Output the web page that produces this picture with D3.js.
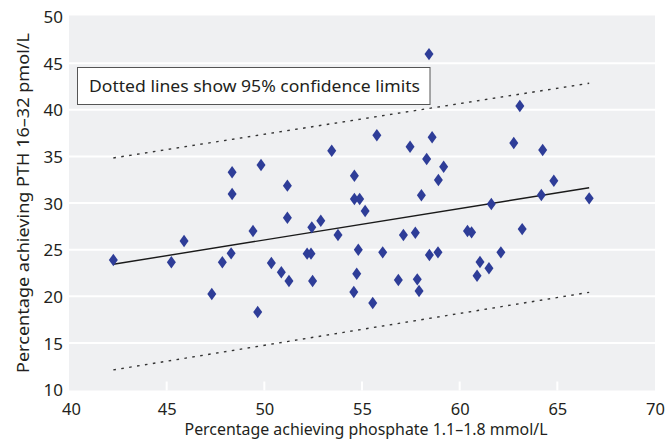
<!DOCTYPE html>
<html>
<head>
<meta charset="utf-8">
<script src="https://cdn.jsdelivr.net/npm/d3@7"></script>
<style>
  html, body { margin: 0; padding: 0; background: #fff; }
  svg { display: block; }
  text { font-family: "Noto Sans", "Open Sans", sans-serif; fill: #231f20; }
</style>
</head>
<body>
<svg id="chart" width="665" height="439"></svg>
<script>
// Percentage of patients per unit achieving phosphate target (x) and PTH target (y)
const phosphatePct = [
  42.27, 45.24, 45.89, 47.31, 47.85, 48.30, 48.35, 48.35, 49.42, 49.66,
  49.83, 50.36, 50.87, 51.18, 51.18, 51.26, 52.19, 52.39, 52.43, 52.47,
  52.89, 53.45, 53.77, 54.58, 54.61, 54.61, 54.73, 54.81, 54.88, 55.16,
  55.55, 55.76, 56.06, 56.86, 57.12, 57.46, 57.73, 57.83, 57.92, 58.04,
  58.31, 58.43, 58.45, 58.59, 58.89, 58.91, 59.18, 60.40, 60.61, 60.89,
  61.04, 61.50, 61.62, 62.11, 62.77, 63.08, 63.20, 64.18, 64.25, 64.82,
  66.63
];
const pthPct = [
  23.89, 23.64, 25.92, 20.24, 23.64, 24.60, 33.29, 30.97, 27.00, 18.31,
  34.08, 23.57, 22.57, 31.86, 28.42, 21.64, 24.57, 24.57, 27.39, 21.64,
  28.10, 35.61, 26.57, 20.46, 32.93, 30.43, 22.42, 24.99, 30.43, 29.14,
  19.28, 37.26, 24.71, 21.74, 26.57, 36.04, 26.81, 21.81, 20.56, 30.83,
  34.72, 45.97, 24.42, 37.05, 24.71, 32.47, 33.89, 27.00, 26.85, 22.20,
  23.67, 23.00, 29.89, 24.71, 36.43, 40.40, 27.20, 30.86, 35.68, 32.39,
  30.50
];

// Regression line and its 95% confidence limits (x, y end points)
const fitLine   = [[42.27, 23.43], [66.63, 31.64]];
const upperCI   = [[42.27, 34.83], [66.63, 42.84]];
const lowerCI   = [[42.27, 12.10], [66.63, 20.42]];

const xTicks = [40, 45, 50, 55, 60, 65, 70];
const yTicks = [10, 15, 20, 25, 30, 35, 40, 45, 50];

const xTitle = "Percentage achieving phosphate 1.1\u20131.8 mmol/L";
const yTitle = "Percentage achieving PTH 16\u201332 pmol/L";
const noteText = "Dotted lines show 95% confidence limits";

const svg = d3.select("#chart");
const plot = { left: 69, right: 655, top: 16.5, bottom: 389.5 };

const x = d3.scaleLinear().domain([40, 70]).range([plot.left, plot.right]);
const y = d3.scaleLinear().domain([10, 50]).range([plot.bottom, plot.top]);

// plot background
svg.append("rect")
  .attr("x", plot.left).attr("y", plot.top - 1)
  .attr("width", plot.right - plot.left)
  .attr("height", plot.bottom - plot.top + 2)
  .attr("fill", "#eff0f2");

// horizontal white gridlines
svg.append("g")
  .selectAll("line")
  .data(yTicks.filter(d => d > 10 && d < 50))
  .join("line")
  .attr("x1", plot.left).attr("x2", plot.right)
  .attr("y1", d => y(d)).attr("y2", d => y(d))
  .attr("stroke", "#fff").attr("stroke-width", 2);

// white inner tick marks along the bottom
svg.append("g")
  .selectAll("line")
  .data(xTicks.filter(d => d > 40 && d < 70))
  .join("line")
  .attr("x1", d => x(d)).attr("x2", d => x(d))
  .attr("y1", plot.bottom + 1).attr("y2", plot.bottom - 8)
  .attr("stroke", "#fff").attr("stroke-width", 2);

// axes (labels only; domain and tick lines hidden)
const yAxis = svg.append("g")
  .attr("transform", `translate(${plot.left - 6},0)`)
  .call(d3.axisLeft(y).tickValues(yTicks).tickSize(0).tickPadding(0));
yAxis.select(".domain").remove();
yAxis.selectAll("text")
  .attr("font-size", 17)
  .attr("font-family", "'Noto Sans', sans-serif")
  .attr("fill", "#231f20")
  .attr("dy", "0.36em");

const xAxis = svg.append("g")
  .attr("transform", `translate(0,${plot.bottom})`)
  .call(d3.axisBottom(x).tickValues(xTicks).tickSize(0).tickPadding(0));
xAxis.select(".domain").remove();
xAxis.selectAll("text")
  .attr("font-size", 16.5)
  .attr("font-family", "'Noto Sans', sans-serif")
  .attr("fill", "#231f20")
  .attr("dy", null)
  .attr("y", 25);
xAxis.selectAll(".tick").filter(d => d === 40).select("text").attr("dx", 2);

// axis titles
svg.append("text")
  .attr("x", 366).attr("y", 434.5)
  .attr("text-anchor", "middle")
  .attr("font-size", 16.5)
  .attr("textLength", 363).attr("lengthAdjust", "spacingAndGlyphs")
  .text(xTitle);

svg.append("text")
  .attr("transform", "translate(29,203) rotate(-90)")
  .attr("text-anchor", "middle")
  .attr("font-size", 17)
  .attr("textLength", 340).attr("lengthAdjust", "spacingAndGlyphs")
  .text(yTitle);

// regression and confidence lines
const line = d3.line().x(d => x(d[0])).y(d => y(d[1]));
svg.append("path").datum(upperCI).attr("d", line)
  .attr("fill", "none").attr("stroke", "#333").attr("stroke-width", 1.4)
  .attr("stroke-dasharray", "2.6 5.4");
svg.append("path").datum(lowerCI).attr("d", line)
  .attr("fill", "none").attr("stroke", "#333").attr("stroke-width", 1.4)
  .attr("stroke-dasharray", "2.6 5.4");
svg.append("path").datum(fitLine).attr("d", line)
  .attr("fill", "none").attr("stroke", "#1a1a1a").attr("stroke-width", 1.4);

// diamond markers
const pts = phosphatePct.map((v, i) => [v, pthPct[i]]);
svg.append("g")
  .selectAll("path")
  .data(pts)
  .join("path")
  .attr("transform", d => `translate(${x(d[0])},${y(d[1])})`)
  .attr("d", "M0,-6.2L4.5,0L0,6.2L-4.5,0Z")
  .attr("fill", "#2e3d98");

// note box
const note = svg.append("g");
note.append("rect")
  .attr("x", 77.5).attr("y", 67.5)
  .attr("width", 352.5).attr("height", 37)
  .attr("fill", "#fff").attr("stroke", "#555").attr("stroke-width", 1);
note.append("text")
  .attr("x", 89).attr("y", 92)
  .attr("font-size", 17)
  .attr("textLength", 331).attr("lengthAdjust", "spacingAndGlyphs")
  .text(noteText);
</script>
</body>
</html>
